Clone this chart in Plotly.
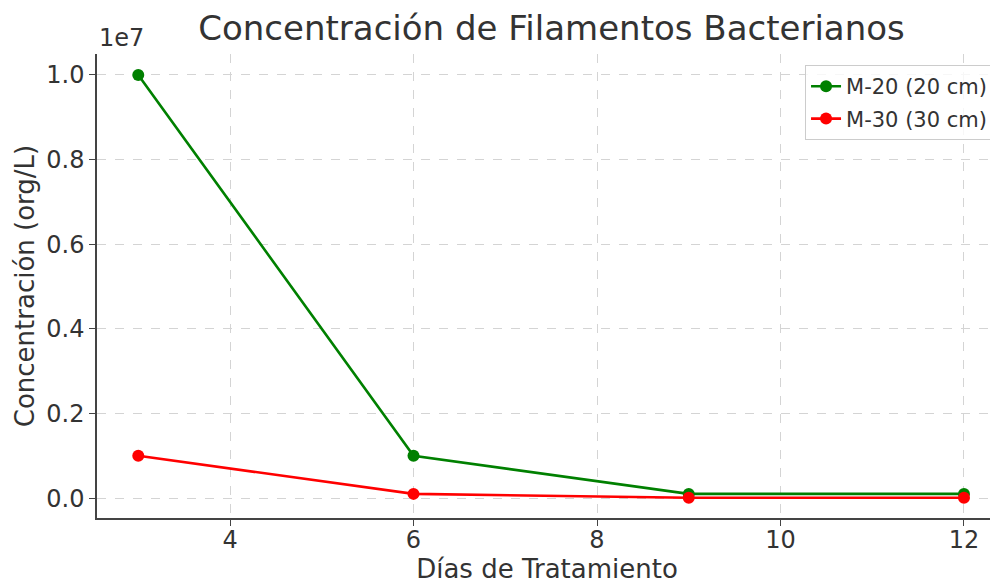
import plotly.graph_objects as go

dias = [3, 6, 9, 12]
m20 = [1e7, 1e6, 1e5, 1e5]
m30 = [1e6, 1e5, 1e4, 1e4]
ytick_vals = [0, 0.2e7, 0.4e7, 0.6e7, 0.8e7, 1.0e7]
ytick_text = ["0.0", "0.2", "0.4", "0.6", "0.8", "1.0"]
xtick_vals = [4, 6, 8, 10, 12]

font = "DejaVu Sans, Verdana, sans-serif"
txt = "#333333"
fig = go.Figure()
fig.add_trace(go.Scatter(x=dias, y=m20, mode="lines+markers", name="M-20 (20 cm)", legendgroup="a",
                         line=dict(color="green", width=2.6), marker=dict(size=12, color="green")))
fig.add_trace(go.Scatter(x=dias, y=m30, mode="lines+markers", name="M-30 (30 cm)", legendgroup="b",
                         line=dict(color="red", width=2.6), marker=dict(size=12, color="red")))

fig.update_layout(
    width=990, height=576,
    margin=dict(l=89, r=1, t=46, b=66),
    plot_bgcolor="white", paper_bgcolor="white",
    font=dict(family=font, size=24, color=txt),
    title=dict(text="Concentración de Filamentos Bacterianos", x=0.549, xanchor="center",
               y=0.9653, yanchor="middle", font=dict(size=34, color=txt)),
    xaxis=dict(range=[2.55, 12.36], tickvals=xtick_vals, showline=True, linecolor="#444444",
               linewidth=1.5, ticks="outside", tickcolor="#444444", ticklen=6, automargin=False,
               ticklabelstandoff=-7,
               showgrid=True, gridcolor="#d4d4d4", griddash="dash", gridwidth=1,
               zeroline=False, tickfont=dict(size=24, color=txt),
               title=dict(text="Días de Tratamiento", standoff=9, font=dict(size=26, color=txt))),
    yaxis=dict(range=[-0.047e7, 1.0495e7], tickvals=ytick_vals, ticktext=ytick_text,
               showline=True, linecolor="#444444", linewidth=1.5, ticks="outside", automargin=False,
               tickcolor="#444444", ticklen=6, showgrid=True, gridcolor="#d4d4d4",
               griddash="dash", gridwidth=1, zeroline=False, tickfont=dict(size=24, color=txt),
               title=dict(text="Concentración (org/L)", standoff=4, font=dict(size=26, color=txt))),
    legend=dict(x=0.9956, y=0.976, xanchor="right", yanchor="top", bgcolor="rgba(255,255,255,0.8)",
                bordercolor="#cccccc", borderwidth=1, font=dict(size=21, color=txt),
                traceorder="grouped", tracegroupgap=2),
)
fig.add_annotation(text="1e7", xref="paper", yref="paper", x=0, y=1.0, xanchor="left",
                   yanchor="bottom", showarrow=False, font=dict(size=24, color=txt), yshift=0)
fig.write_html("out.html")
